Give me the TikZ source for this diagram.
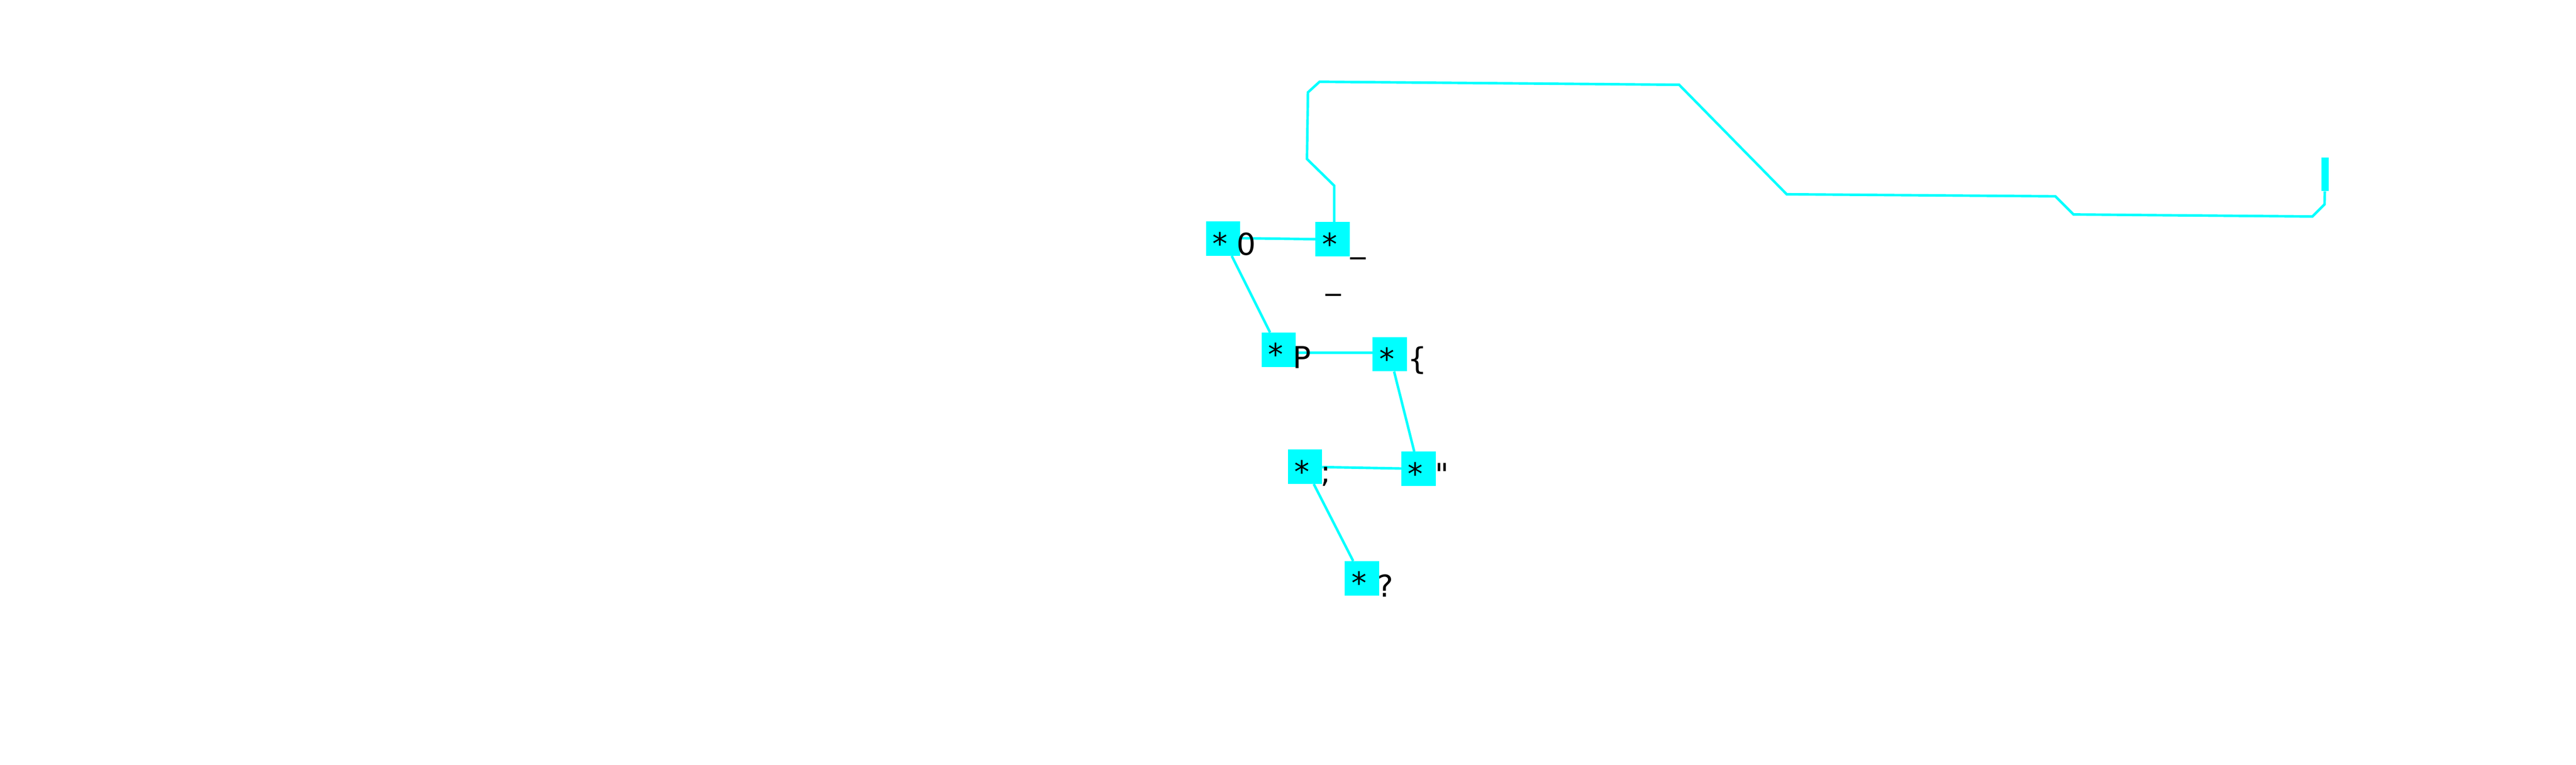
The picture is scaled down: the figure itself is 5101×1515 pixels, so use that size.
\documentclass[tikz,border=0pt]{standalone}
\usepackage{fontspec}
\setmainfont{DejaVu Sans}[Ligatures=TeXOff]
\definecolor{cy}{RGB}{0,255,255}
\newcommand\astmark{\smash{\raisebox{-0.52em}{*}}\kern12bp}
\begin{document}
\begin{tikzpicture}[x=1bp,y=-1bp,
  box/.style={draw=none, fill=cy, minimum width=68bp, minimum height=68bp, inner sep=0pt, font=\fontsize{60}{72}\selectfont},
  endbox/.style={draw=none, fill=cy, minimum width=14bp, minimum height=67bp, inner sep=0pt},
  lab/.style={anchor=base west, inner sep=0pt, font=\fontsize{60}{72}\selectfont},
  link/.style={draw=cy, line width=5bp}]
\useasboundingbox (0,0) rectangle (5101,1515);
% boxes
\node[box] (n0) at (2422,473) {\astmark};
\node[box] (nu) at (2639,474) {\astmark};
\node[box] (nP) at (2532,693) {\astmark};
\node[box] (nb) at (2752,702) {\astmark};
\node[box] (nsc) at (2584,925) {\astmark};
\node[box] (nq) at (2809,929) {\astmark};
\node[box] (nqm) at (2697,1146) {\astmark};
\node[endbox] (nend) at (4604,345.5) {};
% connectors
\draw[link] ([yshift=1bp]n0.east) -- (nu.west);
\draw[link] (n0) -- (nP);
\draw[link] ([yshift=-6bp]nP.east) -- ([yshift=3bp]nb.west);
\draw[link] (nb) -- (nq);
\draw[link] (nsc) -- (nq);
\draw[link] (nsc) -- (nqm);
\draw[link] ([xshift=3bp]nu.north) -- (2642,368) -- (2588,315) -- (2590,183) -- (2613,162)
  -- (3325,168) -- (3538,385) -- (4070,389) -- (4106,425) -- (4579,429)
  -- (4603,405) -- (nend);
% labels
\node[lab] (l0) at (2449,505) {0};
\node[lab] (lu) at (2674,500) {\_};
\node[lab] (lP) at (2560,730) {P};
\node[lab] (lb) at (2787,732) {\{};
\node[lab] (lsc) at (2615,956) {;};
\node[lab] (lq) at (2842,962) {"};
\node[lab] (lqm) at (2727,1183) {?};
\node[lab] (lx) at (2625,573) {\_};
\end{tikzpicture}
\end{document}
